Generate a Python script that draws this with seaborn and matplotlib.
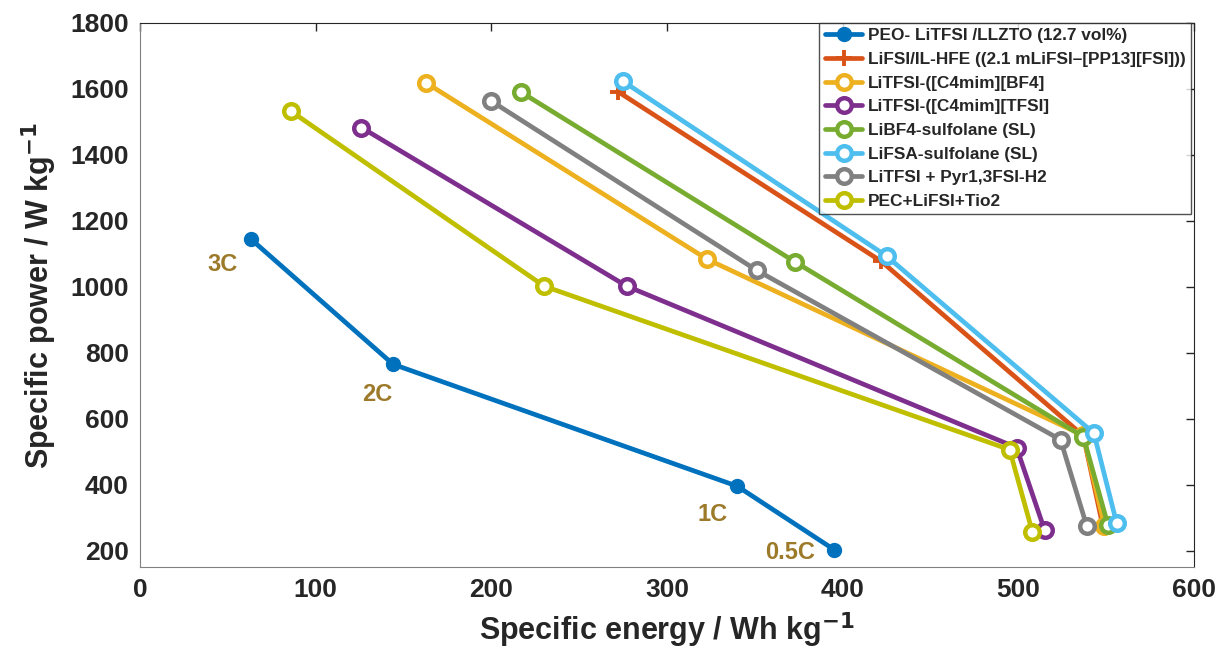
import matplotlib
matplotlib.use('Agg')
import matplotlib.pyplot as plt
import seaborn as sns
import pandas as pd

# Data (0.5C, 1C, 2C, 3C points)
labels = [
    'PEO- LiTFSI /LLZTO (12.7 vol%)',
    'LiFSI/IL-HFE ((2.1 mLiFSI\u2013[PP13][FSI]))',
    'LiTFSI-([C4mim][BF4]',
    'LiTFSI-([C4mim][TFSI]',
    'LiBF4-sulfolane (SL)',
    'LiFSA-sulfolane (SL)',
    'LiTFSI + Pyr1,3FSI-H2',
    'PEC+LiFSI+Tio2',
]
peo_e = [63, 144, 340, 395]
peo_p = [1145, 765, 395, 203]
ilhfe_e = [272, 422, 537, 548]
ilhfe_p = [1592, 1077, 548, 276]
bf4_e = [163, 323, 537, 549]
bf4_p = [1618, 1083, 549, 275]
tfsi_e = [126, 277, 499, 515]
tfsi_p = [1483, 1002, 512, 261]
libf4_e = [217, 373, 537, 551]
libf4_p = [1590, 1075, 545, 278]
lifsa_e = [275, 425, 543, 556]
lifsa_p = [1623, 1093, 556, 282]
pyr_e = [200, 351, 524, 539]
pyr_p = [1563, 1050, 536, 273]
pec_e = [86, 230, 495, 508]
pec_p = [1532, 1002, 506, 256]

energies = [peo_e, ilhfe_e, bf4_e, tfsi_e, libf4_e, lifsa_e, pyr_e, pec_e]
powers = [peo_p, ilhfe_p, bf4_p, tfsi_p, libf4_p, lifsa_p, pyr_p, pec_p]
colors = ['#0072BD', '#D95319', '#EDB120', '#7E2F8E',
          '#77AC30', '#4DBEEE', '#808080', '#BFBF00']

rate_labels = ['3C', '2C', '1C', '0.5C']
rate_x = [47, 135, 326, 370]
rate_y = [1067, 673, 309, 194]

sns.set_style('white')
plt.rcParams['font.family'] = ['Liberation Sans', 'DejaVu Sans']

fig = plt.figure(figsize=(12.2, 6.57), dpi=100)
ax = fig.add_axes([0.1148, 0.137, 0.8639, 0.828])

for i, lab in enumerate(labels):
    df = pd.DataFrame({'energy': energies[i], 'power': powers[i]})
    if i == 0:
        kw = dict(marker='o', markersize=9, markerfacecolor=colors[i],
                  markeredgecolor=colors[i], markeredgewidth=2)
    elif i == 1:
        kw = dict(marker='+', markersize=11, markeredgewidth=2.8,
                  markeredgecolor=colors[i])
    else:
        kw = dict(marker='o', markersize=10.5, markerfacecolor='white',
                  markeredgecolor=colors[i], markeredgewidth=3.2)
    sns.lineplot(data=df, x='energy', y='power', sort=False, ax=ax,
                 color=colors[i], lw=3.4, label=lab, **kw)

for t, x, y in zip(rate_labels, rate_x, rate_y):
    ax.text(x, y, t, color='#9C7A2A', fontsize=17, fontweight='bold',
            ha='center', va='center')

ax.set_xlim(0, 600)
ax.set_ylim(150, 1800)
ax.set_xticks(range(0, 601, 100))
ax.set_yticks(range(200, 1801, 200))
ax.tick_params(direction='in', length=6, width=1, top=True, right=True,
               labelsize=19, pad=8)
for lbl in ax.get_xticklabels() + ax.get_yticklabels():
    lbl.set_fontweight('bold')
    lbl.set_color('#262626')
for s in ['left', 'bottom']:
    ax.spines[s].set_color('#808080')
for s in ['top', 'right']:
    ax.spines[s].set_color('#262626')

ax.set_xlabel('Specific energy / Wh kg$^{\\mathbf{-1}}$', fontsize=22,
              fontweight='bold', color='#262626', labelpad=6)
ax.set_ylabel('Specific power / W kg$^{\\mathbf{-1}}$', fontsize=22,
              fontweight='bold', color='#262626', labelpad=8)

leg = ax.legend(loc='upper right', bbox_to_anchor=(1.0, 1.006), frameon=True,
                fancybox=False, edgecolor='#262626', handlelength=2.2,
                borderpad=0.3, labelspacing=0.5, handletextpad=0.3,
                borderaxespad=0.2,
                prop={'weight': 'bold', 'size': 12.4})
leg.get_frame().set_linewidth(1)

fig.savefig('out.png', dpi=100, facecolor='white')
